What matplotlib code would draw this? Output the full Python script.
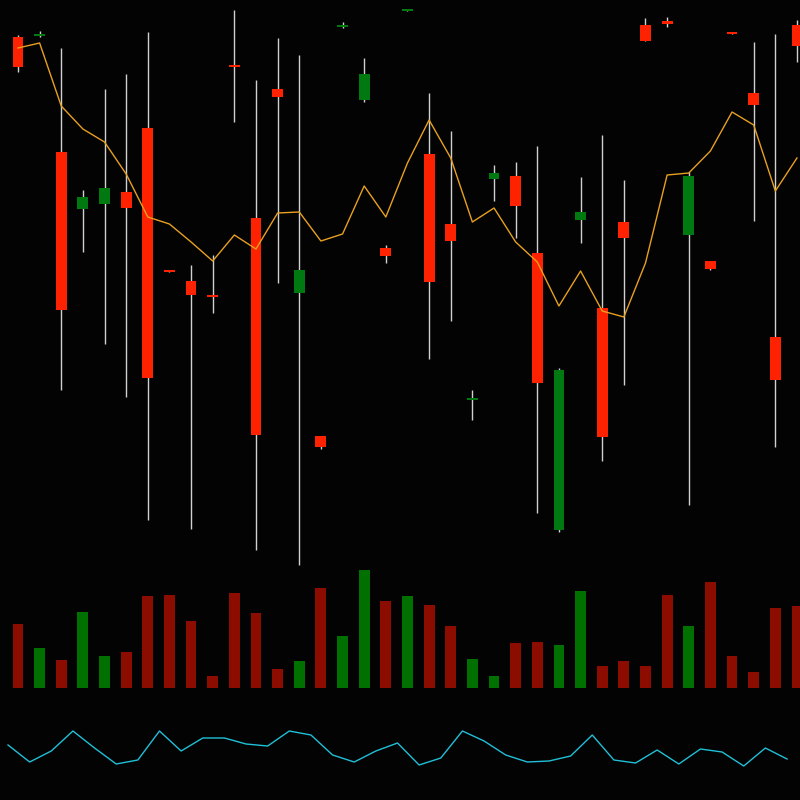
import matplotlib
matplotlib.use("Agg")
import matplotlib.pyplot as plt
import numpy as np

# price panel values (screen-derived units, larger = lower on chart)
body_top = [37,34,152,197,188,192,128,270,281,295,65,218,89,270,436,25,74,248,9,154,224,398,173,176,253,370,212,308,222,25,21,176,261,32,93,337,25]
body_bot = [67,35,310,209,204,208,378,272,295,297,67,435,97,293,447,27,100,256,11,282,241,400,179,206,383,530,220,437,238,41,24,235,269,34,105,380,46]
wick_top = [35,31,48,190,89,74,32,270,265,255,10,80,38,55,436,22,58,245,9,93,131,390,165,162,146,368,177,135,180,18,17,172,261,32,42,34,20]
wick_bot = [72,37,390,252,344,397,520,272,529,313,122,550,283,565,449,28,102,263,11,359,321,420,201,238,513,532,243,461,385,41,27,505,270,34,221,447,62]
up = [1,0,1,0,0,1,1,1,1,1,1,1,1,0,1,0,0,1,0,1,1,0,0,1,1,0,0,1,1,1,1,0,1,1,1,1,1]
ma = [48,43,106,129,142,174,217,224,242,261,235,249,213,212,241,234,186,217,163,120,158,222,208,242,262,306,271,311,317,263,175,173,151,112,125,191,158]
vol_top = [624,648,660,612,656,652,596,595,621,676,593,613,669,661,588,636,570,601,596,605,626,659,676,643,642,645,591,666,661,666,595,626,582,656,672,608,606]
ind = [745,762,751,731,748,764,760,731,751,738,738,744,746,731,735,755,762,751,743,765,758,731,741,755,762,761,756,735,760,763,750,764,749,752,766,748,759]

n = len(up)
x = np.arange(n)
fig = plt.figure(figsize=(8, 8), dpi=100, facecolor="#030303")
ax = fig.add_axes([0, 0, 1, 1])
ax.set_facecolor("#030303")
ax.set_xlim(-0.83, 36.14)
ax.set_ylim(800, 0)
ax.axis("off")

RED, GREEN = "#ff2200", "#007a10"
VRED, VGREEN = "#8c0c00", "#007000"
for i in range(n):
    ax.vlines(x[i], wick_top[i], wick_bot[i], color="#d0d0d0", lw=1, zorder=1)
    c = RED if up[i] else GREEN
    h = max(body_bot[i] - body_top[i], 1.5)
    ax.bar(x[i], h, bottom=body_top[i], width=0.5, color=c, zorder=2)
    vc = VRED if up[i] else VGREEN
    ax.bar(x[i], 688 - vol_top[i], bottom=vol_top[i], width=0.5, color=vc)
ax.plot(x, ma, color="#e8a020", lw=1, zorder=3)
ax.plot(x - 0.46, ind, color="#20c0d8", lw=1)
fig.savefig("out.png", dpi=100, facecolor=fig.get_facecolor())
